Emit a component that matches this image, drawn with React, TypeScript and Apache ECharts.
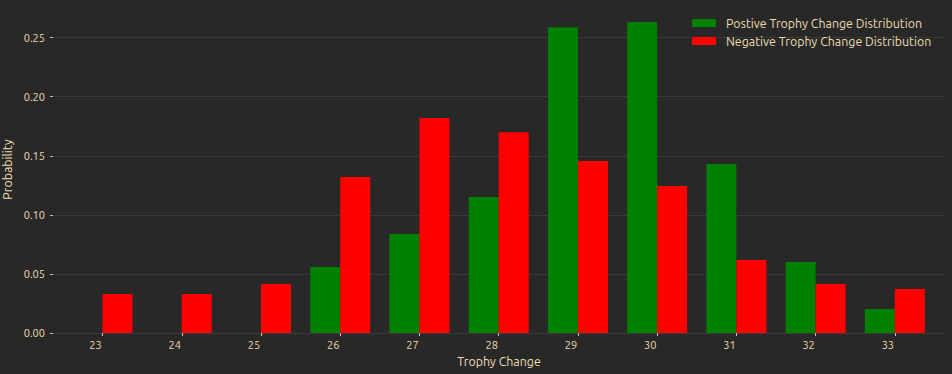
import React, { useEffect, useRef } from "react";
import * as echarts from "echarts";

const trophyChanges = [23, 24, 25, 26, 27, 28, 29, 30, 31, 32, 33];
const positiveProb = [0, 0, 0, 0.0558, 0.0838, 0.1151, 0.2589, 0.2632, 0.143, 0.0601, 0.0203];
const negativeProb = [0.033, 0.033, 0.0415, 0.132, 0.1819, 0.170, 0.1455, 0.1244, 0.0618, 0.0415, 0.0372];
const yTicks = [0, 0.05, 0.1, 0.15, 0.2, 0.25];

const positiveName = "Postive Trophy Change Distribution";
const negativeName = "Negative Trophy Change Distribution";

const FONT = "Ubuntu, 'Noto Sans', 'DejaVu Sans', sans-serif";
const TEXT = "#ecdcb0";
const BG = "#282828";

export default function App() {
  const ref = useRef<HTMLDivElement>(null);
  useEffect(() => {
    if (!ref.current) return;
    const chart = echarts.init(ref.current, undefined, { renderer: "svg" });
    chart.setOption({
      animation: false,
      backgroundColor: BG,
      textStyle: { fontFamily: FONT, color: TEXT },
      grid: { left: 53, right: 7, top: 6, bottom: 41, containLabel: false, outerBoundsMode: "none" },
      legend: {
        orient: "vertical",
        left: 692,
        top: 16,
        padding: 0,
        itemWidth: 24,
        itemHeight: 8,
        itemGap: 4,
        icon: "rect",
        selectedMode: false,
        textStyle: { color: TEXT, fontFamily: FONT, fontSize: 12.4, lineHeight: 14, padding: [0, 0, 0, 5] },
        data: [positiveName, negativeName],
      },
      xAxis: {
        type: "value",
        min: 22.375,
        max: 33.633,
        name: "Trophy Change",
        nameLocation: "middle",
        nameGap: 21,
        nameTextStyle: { color: TEXT, fontSize: 12.4, fontFamily: FONT },
        axisLine: { show: false },
        splitLine: { show: false },
        axisTick: { show: true, length: 3, customValues: trophyChanges, lineStyle: { color: "#cfc6a8" } },
        axisLabel: {
          customValues: trophyChanges,
          color: TEXT,
          fontSize: 11,
          margin: 6,
          padding: [0, 14, 0, 0],
          formatter: (v: number) => String(Math.round(v)),
        },
      },
      yAxis: {
        type: "value",
        min: 0,
        max: 0.2768,
        name: "Probability",
        nameLocation: "middle",
        nameGap: 31,
        nameTextStyle: { color: TEXT, fontSize: 12.4, fontFamily: FONT },
        axisLine: { show: false },
        axisTick: { show: true, length: 3, customValues: yTicks, lineStyle: { color: "#cfc6a8" } },
        splitLine: { show: true, lineStyle: { color: "#3a3a3a", width: 1 } },
        axisLabel: {
          customValues: yTicks,
          color: TEXT,
          fontSize: 11,
          margin: 8,
          formatter: (v: number) => v.toFixed(2),
        },
      },
      series: [
        {
          name: positiveName,
          type: "bar",
          barWidth: 30,
          barGap: "0%",
          itemStyle: { color: "#008000" },
          data: trophyChanges.map((t, i) => [t, positiveProb[i]]),
        },
        {
          name: negativeName,
          type: "bar",
          barWidth: 30,
          barGap: "0%",
          itemStyle: { color: "#ff0000" },
          data: trophyChanges.map((t, i) => [t, negativeProb[i]]),
        },
      ],
    });
    return () => chart.dispose();
  }, []);
  return <div ref={ref} style={{ width: 952, height: 374, position: "absolute", left: 0, top: 0 }} />;
}
